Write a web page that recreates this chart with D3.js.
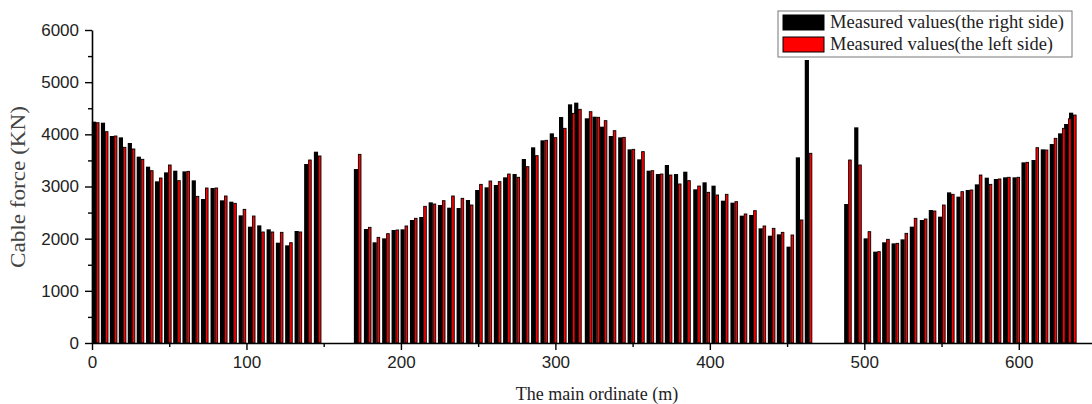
<!DOCTYPE html>
<html>
<head>
<meta charset="utf-8">
<script src="https://cdn.jsdelivr.net/npm/d3@7"></script>
<style>
  body { margin: 0; background: #fff; }
  svg { display: block; }
  .tick text { font-family: "Liberation Sans", Arial, sans-serif; }
</style>
</head>
<body>
<svg id="chart" width="1092" height="404"></svg>
<script>
// --- Data ---
// cable positions along the main ordinate (m)
const positions = [
  2.4, 8.2, 14.0, 19.8, 25.6, 31.4, 37.4, 43.2, 49.1, 55.0, 61.0, 67.0, 73.0,
  79.2, 85.3, 91.3, 97.4, 103.4, 109.4, 115.5, 121.5, 127.5, 133.6, 139.8, 146.1,
  172.0, 178.5, 184.1, 190.3, 196.4, 202.2, 208.3, 214.3, 220.4, 226.4, 232.4,
  238.5, 244.5, 250.5, 256.6, 262.6, 268.6, 274.7, 280.7, 286.7, 292.8, 298.8,
  304.8, 310.6, 314.6, 321.5, 326.5, 331.2, 337.0, 343.1, 349.2, 355.4, 361.5,
  367.5, 373.3, 379.2, 385.2, 391.7, 397.7, 403.5, 409.6, 415.8, 421.8, 427.9,
  434.0, 440.0, 445.8, 452.1, 458.1, 463.9,
  489.4, 495.9, 502.0, 508.2, 514.0, 520.1, 525.9, 531.9, 538.4, 544.2, 550.2,
  556.0, 562.1, 568.1, 574.0, 580.4, 586.3, 592.3, 598.4, 604.2, 610.7, 616.7,
  622.5, 627.9, 631.8, 635.0
];
// measured values, right side (KN)
const rightSide = [
  4243, 4223, 3968, 3942, 3834, 3572, 3380, 3099, 3271, 3303, 3290, 3118, 2760,
  2971, 2735, 2709, 2447, 2230, 2255, 2179, 1923, 1872, 2147, 3431, 3667,
  3335, 2185, 1930, 2006, 2166, 2179, 2358, 2415, 2696, 2645, 2594,
  2588, 2741, 2933, 2984, 3029, 3176, 3239, 3527, 3751, 3885, 4019,
  4332, 4575, 4607, 4307, 4338, 4147, 3968, 3942, 3712, 3521, 3303,
  3239, 3412, 3239, 3284, 2946, 3080, 3016, 2728, 2690, 2441, 2454,
  2198, 2057, 2083, 1847, 3559, 5425,
  2664, 4134, 2006, 1751, 1930, 1910, 1987, 2230, 2358, 2549, 2422,
  2888, 2805, 2933, 3041, 3169, 3144, 3176, 3176, 3463, 3508, 3712,
  3814, 4019, 4198, 4415
];
// measured values, left side (KN)
const leftSide = [
  4223, 4051, 3968, 3751, 3719, 3521, 3303, 3163, 3412, 3112, 3290, 2811, 2971,
  2971, 2818, 2677, 2562, 2434, 2128, 2128, 2121, 1923, 2128, 3508, 3585,
  3616, 2217, 2025, 2096, 2166, 2243, 2390, 2620, 2664, 2728, 2818,
  2773, 2645, 3041, 3105, 3093, 3239, 3176, 3380, 3591, 3885, 3936,
  4115, 4402, 4479, 4434, 4326, 4262, 4070, 3942, 3712, 3668, 3303,
  3239, 3220, 3048, 3112, 3009, 2888, 2837, 2850, 2709, 2473, 2537,
  2243, 2198, 2121, 2070, 2358, 3636,
  3508, 3412, 2134, 1751, 1987, 1910, 2102, 2390, 2377, 2530, 2645,
  2850, 2901, 2933, 3220, 3041, 3144, 3176, 3176, 3463, 3744, 3699,
  3923, 4115, 4300, 4370
];
const yTicks = [0, 1000, 2000, 3000, 4000, 5000, 6000];
const xTicks = [0, 100, 200, 300, 400, 500, 600];
const seriesNames = ["Measured values(the right side)", "Measured values(the left side)"];

// --- Setup ---
const svg = d3.select("#chart");
const x = d3.scaleLinear().domain([0, 650]).range([92, 1096]);
const y = d3.scaleLinear().domain([0, 6000]).range([343, 30]);

const barGroup = svg.append("g").attr("class", "bars");
const pairs = positions.map((p, i) => ({ pos: p, right: rightSide[i], left: leftSide[i] }));

// black (right side) bar, then red (left side) bar next to it
barGroup.selectAll("rect.right")
    .data(pairs)
    .join("rect")
    .attr("class", "right")
    .attr("x", d => x(d.pos) - 3.8)
    .attr("width", 4.2)
    .attr("y", d => y(d.right))
    .attr("height", d => y(0) - y(d.right))
    .attr("fill", "#000");

barGroup.selectAll("rect.left")
    .data(pairs)
    .join("rect")
    .attr("class", "left")
    .attr("x", d => x(d.pos) + 0.7)
    .attr("width", 2.6)
    .attr("y", d => y(d.left))
    .attr("height", d => y(0) - y(d.left))
    .attr("fill", "#ff0000")
    .attr("stroke", "#000")
    .attr("stroke-width", 0.9);

// --- Axes ---
const yAxis = svg.append("g")
    .attr("transform", `translate(${x(0)},0)`)
    .call(d3.axisLeft(y).tickValues(yTicks).tickFormat(d3.format("d"))
        .tickSize(7).tickPadding(6).tickSizeOuter(0));
svg.append("g")
    .attr("transform", `translate(${x(0)},0)`)
    .call(d3.axisLeft(y).tickValues(d3.range(500, 6000, 1000)).tickSize(4).tickFormat(""))
    .select(".domain").remove();

const xAxis = svg.append("g")
    .attr("transform", `translate(0,${y(0)})`)
    .call(d3.axisBottom(x).tickValues(xTicks).tickFormat(d3.format("d"))
        .tickSize(7).tickPadding(6).tickSizeOuter(0));
svg.append("g")
    .attr("transform", `translate(0,${y(0)})`)
    .call(d3.axisBottom(x).tickValues(d3.range(50, 650, 100)).tickSize(4).tickFormat(""))
    .select(".domain").remove();

svg.selectAll(".domain").attr("stroke", "#000").attr("stroke-width", 1.6);
svg.selectAll(".tick line").attr("stroke", "#000").attr("stroke-width", 1.4);
yAxis.selectAll(".tick text").attr("font-size", 17).attr("fill", "#222");
xAxis.selectAll(".tick text").attr("font-size", 17).attr("fill", "#222");

// --- Axis titles ---
svg.append("text")
    .attr("transform", "translate(25,187) rotate(-90)")
    .attr("text-anchor", "middle")
    .attr("font-family", "'Liberation Serif', 'Times New Roman', serif")
    .attr("font-size", 20)
    .attr("textLength", 162)
    .attr("lengthAdjust", "spacingAndGlyphs")
    .attr("fill", "#444")
    .text("Cable force (KN)");

svg.append("text")
    .attr("x", 597)
    .attr("y", 400)
    .attr("text-anchor", "middle")
    .attr("font-family", "'Liberation Serif', 'Times New Roman', serif")
    .attr("font-size", 18)
    .attr("fill", "#222")
    .text("The main ordinate (m)");

// --- Legend ---
const legend = svg.append("g").attr("transform", "translate(778,11)");
legend.append("rect")
    .attr("width", 294).attr("height", 46)
    .attr("fill", "#fff").attr("stroke", "#777").attr("stroke-width", 1);
const legendColors = ["#000", "#ff0000"];
const legendLengths = [234, 223];
seriesNames.forEach((name, i) => {
    legend.append("rect")
        .attr("x", 5).attr("y", 4 + i * 22)
        .attr("width", 41).attr("height", 15)
        .attr("fill", legendColors[i]).attr("stroke", "#000").attr("stroke-width", 1);
    legend.append("text")
        .attr("x", 52).attr("y", 17 + i * 22)
        .attr("font-family", "'Liberation Serif', 'Times New Roman', serif")
        .attr("font-size", 18)
        .attr("textLength", legendLengths[i])
        .attr("lengthAdjust", "spacingAndGlyphs")
        .attr("fill", "#222")
        .text(name);
});
</script>
</body>
</html>
